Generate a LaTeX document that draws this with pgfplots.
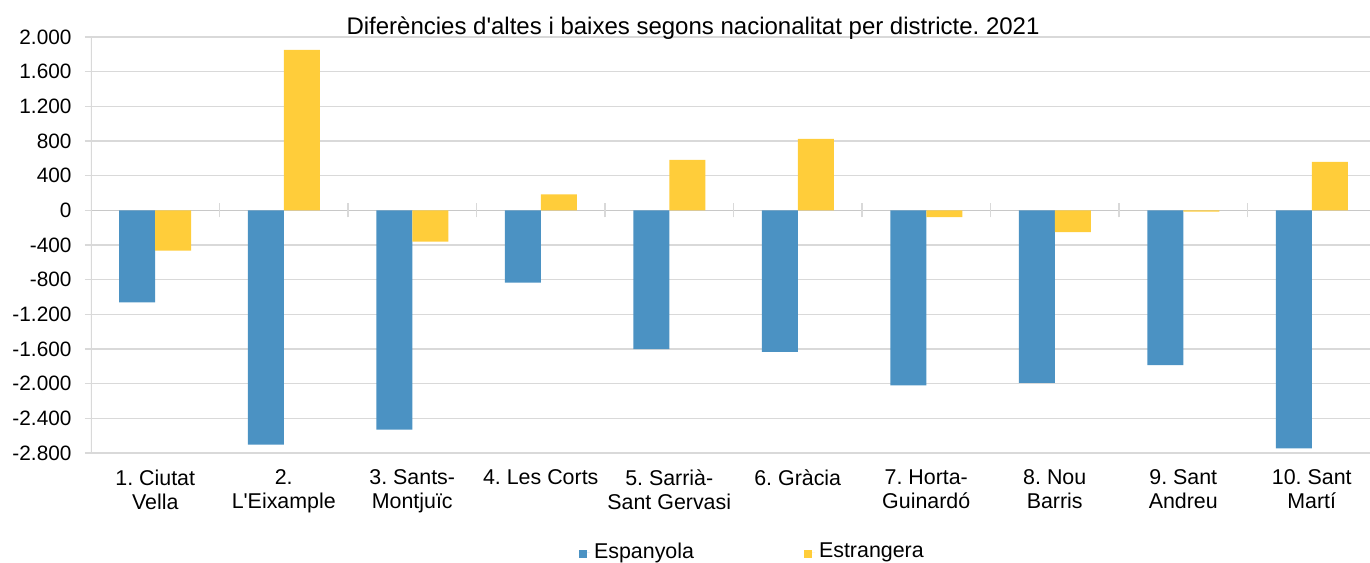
\documentclass[border=0pt]{standalone}
\usepackage{fontspec}
\setmainfont{Liberation Sans}[Ligatures=TeXOff]
\usepackage{pgfplots}
\pgfplotsset{compat=1.18}
\definecolor{esp}{RGB}{75,146,195}
\definecolor{est}{RGB}{255,205,58}
\definecolor{gridc}{RGB}{217,217,217}
\definecolor{zeroc}{RGB}{200,200,200}
\begin{document}
\frenchspacing
\fontsize{10.7}{12}\selectfont
\begin{tikzpicture}
\useasboundingbox (-45.5pt,-54.5pt) rectangle (639.5pt,226.5pt);
\begin{axis}[
  at={(0pt,0pt)}, anchor=south west,
  scale only axis, width=642.5pt, height=208pt,
  xmin=-0.5, xmax=9.5, ymin=-2800, ymax=2000,
  ybar=0pt, bar width=18pt,
  ytick={-2800,-2400,...,2000},
  yticklabels={-2.800,-2.400,-2.000,-1.600,-1.200,-800,-400,0,400,800,1.200,1.600,2.000},
  xtick={0,...,9},
  xticklabels={{1. Ciutat\\Vella},{2.\\L'Eixample},{3. Sants-\\Montjuïc},{4. Les Corts},{5. Sarrià-\\Sant Gervasi},{6. Gràcia},{7. Horta-\\Guinardó},{8. Nou\\Barris},{9. Sant\\Andreu},{10. Sant\\Martí}},
  xticklabel style={align=center, yshift=-1.5pt, font=\fontsize{10.7}{12}\selectfont},
  yticklabel style={xshift=-3pt, font=\fontsize{10.4}{12}\selectfont},
  major x tick style={draw=none},
  ytick pos=left, tick align=outside, major tick length=3pt,
  ytick style={gridc, line width=0.6pt},
  ymajorgrids, grid style={gridc, line width=0.6pt},
  axis line style={draw=none},
  /pgf/number format/assume math mode=true,
  title={Diferències d'altes i baixes segons nacionalitat per districte. 2021},
  title style={at={(0.4685,1)}, anchor=base, yshift=-4.5pt, font=\fontsize{12}{14}\selectfont},
  legend columns=2,
  legend style={draw=none, fill=none, at={(0.5155,-0.238)}, anchor=center,
    font=\fontsize{10.7}{12}\selectfont,
    /tikz/every even column/.append style={column sep=53pt},
    inner sep=0pt},
  legend image code/.code={\path (0pt,0pt) -- (5.5pt,0pt); \fill[#1] (0pt,-3pt) rectangle (4pt,1pt);},
]
\draw[zeroc, line width=0.6pt] (axis cs:-0.5,0) -- (axis cs:9.5,0);
\pgfplotsinvokeforeach{0.5,1.5,...,8.5}{\draw[gridc, line width=0.6pt] (axis cs:#1,-80) -- (axis cs:#1,80);}
\draw[gridc, line width=0.6pt] (rel axis cs:0,0) -- (rel axis cs:0,1);
\addplot[fill=esp, draw=none] coordinates {(0,-1062) (1,-2702) (2,-2529) (3,-835) (4,-1601) (5,-1632) (6,-2021) (7,-1990) (8,-1786) (9,-2748)};
\addlegendentry{Espanyola}
\addplot[fill=est, draw=none] coordinates {(0,-466) (1,1851) (2,-362) (3,185) (4,581) (5,824) (6,-77) (7,-250) (8,-15) (9,558)};
\addlegendentry{Estrangera}
\end{axis}
\end{tikzpicture}
\end{document}
